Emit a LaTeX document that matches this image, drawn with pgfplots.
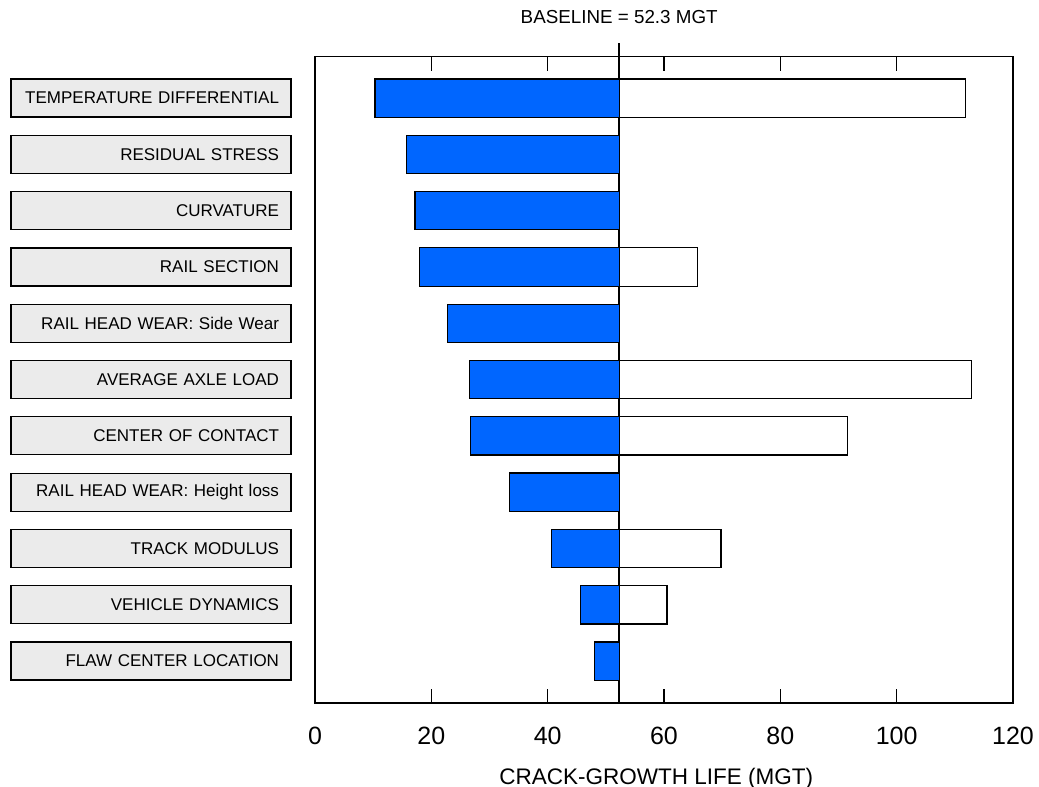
\documentclass[border=0pt]{standalone}
\usepackage{fontspec}
\setmainfont{Liberation Sans}
\usepackage{pgfplots}
\pgfplotsset{compat=1.18}
\definecolor{barblue}{RGB}{0,102,255}
\definecolor{boxgray}{RGB}{235,235,235}
\begin{document}
\begin{tikzpicture}
\useasboundingbox (-315pt,-84pt) rectangle (724pt,703pt);
\begin{axis}[
  at={(0,0)}, anchor=south west,
  scale only axis, width=698pt, height=646.3pt,
  xmin=0, xmax=120, ymin=-0.735, ymax=10.745, y dir=reverse,
  xbar stacked, bar width=0.68,
  clip=false,
  xtick={0,20,...,120}, ytick={0,...,10},
  yticklabels={TEMPERATURE DIFFERENTIAL, RESIDUAL STRESS, CURVATURE, RAIL SECTION,
    RAIL HEAD WEAR: Side Wear, AVERAGE AXLE LOAD, CENTER OF CONTACT,
    RAIL HEAD WEAR: Height loss, TRACK MODULUS, VEHICLE DYNAMICS, FLAW CENTER LOCATION},
  tick align=inside, major tick length=14pt,
  tick style={line width=1.2pt, black},
  ytick style={draw=none},
  axis line style={line width=1.2pt},
  /pgf/number format/assume math mode=true,
  xticklabel style={font=\fontsize{25pt}{30pt}\selectfont, anchor=base, yshift=-41pt},
  yticklabel style={font=\fontsize{17pt}{20pt}\selectfont, draw=black, line width=1.2pt,
    fill=boxgray, text width=256pt, inner xsep=12pt, align=right,
    minimum height=38pt, anchor=east, xshift=-24pt, outer sep=0pt},
  xlabel={CRACK-GROWTH LIFE (MGT)},
  xlabel style={font=\fontsize{22.5pt}{27pt}\selectfont, at={(axis description cs:0.489,0)},
    anchor=base, yshift=-81pt},
]
% invisible offset: left end of blue bar
\addplot[draw=none, fill=none] coordinates {
 (10.3,0) (15.8,1) (17.2,2) (17.9,3) (22.8,4) (26.5,5) (26.8,6) (33.4,7) (40.6,8) (45.7,9) (48.1,10)};
% blue: from left end to baseline 52.3
\addplot[fill=barblue, draw=black, line width=1.2pt] coordinates {
 (42.0,0) (36.5,1) (35.1,2) (34.4,3) (29.5,4) (25.8,5) (25.5,6) (18.9,7) (11.7,8) (6.6,9) (4.2,10)};
% white: from baseline to right end
\addplot[fill=white, draw=black, line width=1.2pt] coordinates {
 (59.6,0) (0,1) (0,2) (13.4,3) (0,4) (60.5,5) (39.2,6) (0,7) (17.5,8) (8.2,9) (0,10)};
\draw[line width=1.6pt, black] (axis cs:52.3,10.745) -- (axis cs:52.3,-0.985);
\node[font=\fontsize{18.8pt}{22pt}\selectfont, anchor=base, yshift=33.4pt]
  at (axis cs:52.3,-0.735) {BASELINE = 52.3 MGT};
\end{axis}
\end{tikzpicture}
\end{document}
